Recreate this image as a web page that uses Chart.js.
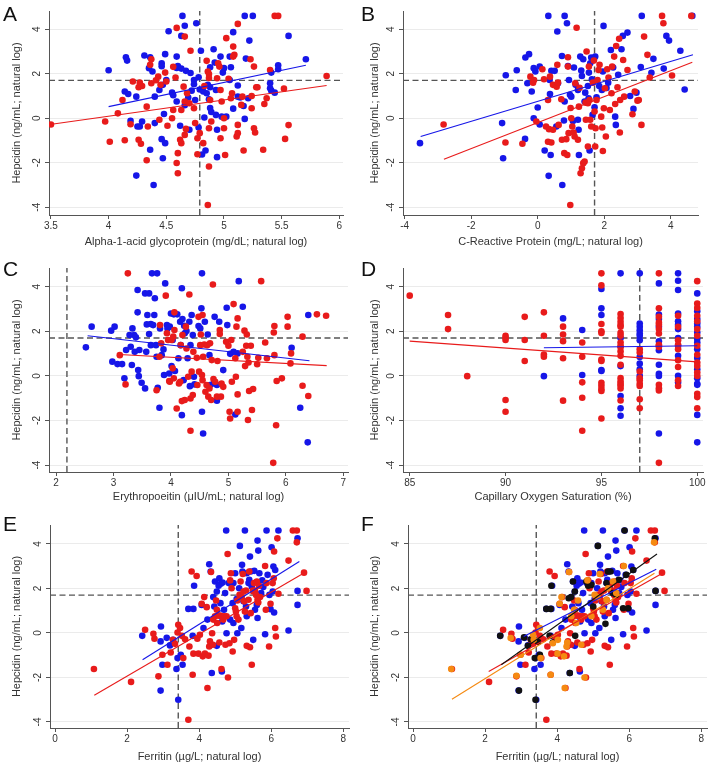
<!DOCTYPE html>
<html>
<head>
<meta charset="utf-8">
<script src="https://cdn.jsdelivr.net/npm/chart.js@4.4.1/dist/chart.umd.min.js"></script>
<style>
body{margin:0;background:#fff;width:718px;height:770px;position:relative;overflow:hidden}
.panel{position:absolute}
.letter{position:absolute;font-family:"Liberation Sans",Arial,sans-serif;font-size:21px;color:#111}
</style>
</head>
<body>
<script>
// hepcidin axis (all panels)
var hepTicks=[-4,-2,0,2,4]
var hepcidinCut=1.7

// A: alpha-1-acid glycoprotein
var agpTicks=[3.5,4,4.5,5,5.5,6]
var agpCut=4.79
var agpBlue=[[4.64,4.6],[4.66,4.16],[4.52,3.91],[4.76,4.27],[4.63,3.70],[4.80,3.03],[4.91,3.10],[5.18,4.6],[5.25,4.6],[5.08,3.87],[5.22,3.49],[5.56,3.70],[5.71,2.65],[4.00,2.16],[4.15,2.74],[4.16,2.59],[4.31,2.82],[4.36,2.74],[4.35,2.25],[4.49,2.88],[4.38,2.10],[4.46,2.47],[4.46,2.34],[4.59,2.77],[4.59,2.26],[4.60,2.35],[4.63,2.23],[4.67,2.13],[4.71,2.03],[4.74,1.72],[4.74,1.53],[4.78,1.84],[4.72,1.24],[4.79,1.29],[4.82,1.20],[4.86,1.50],[4.88,1.39],[4.85,1.12],[4.92,2.50],[4.88,2.29],[4.97,2.77],[5.00,2.25],[5.05,2.77],[5.06,2.29],[4.99,2.05],[4.93,1.27],[5.05,1.72],[5.12,1.47],[5.12,0.97],[5.21,0.90],[5.14,0.93],[5.19,2.68],[5.41,2.05],[5.47,2.20],[5.40,1.57],[5.40,1.35],[5.41,1.24],[5.44,1.15],[5.47,2.38],[4.14,1.20],[4.17,1.09],[4.24,0.97],[4.40,0.97],[4.44,1.27],[4.47,1.50],[4.50,1.72],[4.55,1.15],[4.56,1.03],[4.59,0.75],[4.66,0.58],[4.69,0.93],[4.75,0.82],[4.87,0.85],[4.88,0.46],[4.89,0.28],[4.93,0.15],[4.98,0.07],[5.02,0.07],[5.08,0.43],[5.17,0.55],[5.18,-0.03],[4.19,-0.12],[4.29,-0.15],[4.25,-0.37],[4.27,-0.37],[4.40,-0.22],[4.48,0.19],[4.62,-0.34],[4.70,-0.52],[4.78,-0.42],[4.83,0.03],[4.94,-0.52],[4.46,-0.94],[4.49,-1.12],[4.36,-1.42],[4.47,-1.80],[4.84,-1.45],[4.81,-1.63],[4.94,-1.75],[4.24,-2.58],[4.39,-3.00]]
var agpRed=[[3.50,-0.28],[3.97,-0.15],[4.01,-1.06],[4.08,0.22],[4.12,0.82],[4.14,-0.99],[4.19,-0.27],[4.21,1.65],[4.26,1.39],[4.27,1.60],[4.29,1.45],[4.33,0.52],[4.26,-0.97],[4.28,-1.15],[4.33,-1.89],[4.34,-0.37],[4.37,2.65],[4.36,2.40],[4.37,1.57],[4.41,1.71],[4.43,1.87],[4.44,-0.07],[4.49,2.05],[4.50,1.65],[4.51,-0.34],[4.55,0.00],[4.56,2.31],[4.58,1.83],[4.59,4.06],[4.59,-2.01],[4.60,-1.57],[4.60,-2.47],[4.62,-0.97],[4.63,-1.12],[4.63,0.37],[4.65,1.42],[4.66,0.75],[4.66,3.67],[4.68,1.12],[4.70,0.67],[4.71,3.03],[4.74,0.45],[4.75,-0.22],[4.77,-0.90],[4.77,-1.62],[4.82,-1.12],[4.83,1.45],[4.85,2.58],[4.86,2.10],[4.87,1.99],[4.87,1.81],[4.87,-2.17],[4.86,-3.90],[4.88,0.82],[4.87,-0.45],[4.89,-0.15],[4.94,1.80],[4.95,2.47],[4.96,2.32],[4.97,1.27],[4.97,-0.90],[4.98,0.75],[5.00,0.00],[5.00,-0.45],[5.01,-1.65],[5.02,3.60],[5.04,1.77],[5.06,0.90],[5.07,1.12],[5.08,3.22],[5.08,2.77],[5.09,2.85],[5.12,4.24],[5.11,-0.82],[5.12,-0.67],[5.12,-0.30],[5.15,0.60],[5.16,0.97],[5.17,-1.45],[5.23,2.65],[5.24,0.45],[5.24,1.00],[5.26,2.32],[5.26,-0.45],[5.27,-0.64],[5.28,1.39],[5.29,1.39],[5.34,-1.42],[5.35,0.64],[5.37,0.90],[5.44,4.6],[5.47,4.6],[5.40,2.17],[5.52,1.33],[5.53,-0.93],[5.56,-0.31],[5.89,1.90],[4.66,-0.75],[4.67,-0.48],[4.56,0.37],[4.45,1.50],[4.79,-0.67]]
var agpFitBlue=[[4.00,0.52],[5.71,2.38]]
var agpFitRed=[[3.49,-0.28],[5.89,1.47]]

// B: C-reactive protein
var crpTicks=[-4,-2,0,2,4]
var crpCut=1.71
var crpBlue=[[-3.54,-1.12],[-1.07,-0.22],[-1.04,-1.80],[-0.96,1.93],[-0.66,1.27],[-0.63,2.16],[-0.38,-0.93],[-0.37,2.73],[-0.26,2.88],[-0.31,1.57],[-0.18,1.20],[-0.12,2.25],[-0.07,2.10],[-0.12,0.00],[0.00,0.48],[0.06,2.32],[0.06,-0.28],[0.21,-1.45],[0.32,4.6],[0.33,-2.59],[0.37,1.09],[0.39,-1.65],[0.41,2.13],[0.51,2.13],[0.56,-0.37],[0.61,1.57],[0.59,3.90],[0.73,2.80],[0.74,-3.00],[0.79,-0.10],[0.81,4.6],[0.88,4.27],[0.91,2.35],[0.94,1.72],[0.97,1.05],[1.01,0.97],[1.06,-0.12],[1.09,2.28],[1.14,1.50],[1.21,1.27],[1.23,-0.52],[1.24,-1.65],[1.28,2.77],[1.31,2.14],[1.33,1.90],[1.37,2.65],[1.41,0.75],[1.43,1.15],[1.51,1.45],[1.53,0.90],[1.56,-1.45],[1.54,2.05],[1.58,2.47],[1.61,2.73],[1.63,1.75],[1.69,2.65],[1.73,2.77],[1.65,0.15],[1.98,4.15],[1.71,0.49],[1.77,0.94],[1.85,1.45],[1.93,1.27],[1.96,2.10],[2.07,1.36],[2.12,1.60],[2.20,3.07],[2.27,2.28],[2.33,0.07],[2.35,-0.30],[2.42,1.95],[2.52,3.10],[2.56,3.70],[2.70,3.85],[2.88,0.42],[2.97,1.15],[2.78,1.00],[3.13,4.6],[3.10,2.30],[3.42,2.04],[3.48,2.67],[3.79,2.23],[3.87,3.70],[3.95,3.49],[4.29,3.03],[4.42,1.29],[4.65,4.6],[0.36,1.72],[0.81,0.75],[1.21,-0.07]]
var crpRed=[[-2.83,-0.28],[-0.97,-1.09],[-0.46,-1.15],[-0.22,1.87],[-0.14,1.60],[-0.11,1.72],[-0.04,-0.15],[0.14,2.20],[0.19,1.75],[0.25,-0.37],[0.31,-1.06],[0.31,0.82],[0.34,-0.49],[0.37,1.87],[0.41,-1.09],[0.46,-0.52],[0.46,1.50],[0.57,1.42],[0.59,2.40],[0.61,1.60],[0.63,-0.30],[0.71,0.85],[0.73,-0.97],[0.80,-1.57],[0.86,-0.94],[0.89,-1.65],[0.91,2.32],[0.91,2.74],[0.93,-0.67],[0.98,-3.90],[0.99,0.46],[1.01,0.00],[1.04,-0.37],[1.08,-0.64],[1.11,-0.82],[1.13,1.57],[1.17,4.07],[1.21,-0.97],[1.24,0.52],[1.26,1.37],[1.29,-2.47],[1.33,-2.25],[1.37,-2.02],[1.41,-1.95],[1.44,0.70],[1.45,-0.07],[1.47,3.00],[1.51,0.67],[1.54,2.32],[1.56,0.82],[1.58,-0.07],[1.61,-0.37],[1.66,1.60],[1.69,2.59],[1.71,0.30],[1.74,-0.45],[1.77,0.82],[1.80,1.72],[1.83,2.17],[1.86,2.40],[1.91,0.07],[1.94,-0.42],[1.96,-1.47],[1.99,0.45],[2.02,1.35],[2.05,-0.82],[2.09,2.20],[2.13,1.83],[2.17,0.37],[2.22,1.12],[2.24,2.32],[2.30,2.77],[2.33,0.64],[2.36,3.25],[2.40,1.39],[2.45,3.57],[2.48,0.82],[2.47,-0.64],[2.57,2.62],[2.60,0.97],[2.70,2.17],[2.85,0.18],[2.92,1.20],[3.00,0.79],[3.04,0.82],[3.12,-0.30],[3.20,3.67],[3.30,2.85],[3.37,1.83],[3.74,4.6],[3.78,4.27],[4.04,1.92],[4.62,4.6],[1.73,-1.27],[1.51,-1.27]]
var crpFitBlue=[[-3.52,-0.82],[4.67,2.85]]
var crpFitRed=[[-2.82,-1.84],[4.65,2.52]]

// C: erythropoietin
var epoTicks=[2,3,4,5,6,7]
var epoCut=2.19
var epoBlue=[[2.52,1.28],[2.62,2.21],[2.96,2.03],[3.02,2.21],[2.98,0.64],[3.07,0.53],[3.15,0.53],[3.19,-0.11],[3.22,1.16],[3.28,1.83],[3.30,1.31],[3.33,2.13],[3.36,1.83],[3.32,0.49],[3.37,1.08],[3.39,1.73],[3.42,3.85],[3.42,2.85],[3.43,0.26],[3.44,-0.01],[3.45,1.16],[3.49,-0.31],[3.55,-0.56],[3.57,1.08],[3.55,3.70],[3.58,2.31],[3.59,2.73],[3.62,3.70],[3.62,1.88],[3.65,2.33],[3.65,1.38],[3.67,4.6],[3.69,2.28],[3.71,2.73],[3.72,3.48],[3.74,1.38],[3.75,0.86],[3.76,4.6],[3.77,-0.53],[3.80,-1.43],[3.81,2.13],[3.84,0.93],[3.87,1.19],[3.90,4.15],[3.88,0.04],[3.93,2.28],[3.94,2.13],[3.97,0.11],[3.98,2.21],[4.00,2.80],[4.01,0.44],[4.03,1.61],[4.05,2.76],[4.07,0.22],[4.11,2.76],[4.13,0.79],[4.16,2.43],[4.17,1.38],[4.19,-1.76],[4.19,3.93],[4.20,2.55],[4.22,-0.19],[4.23,2.25],[4.24,1.91],[4.27,2.01],[4.29,0.79],[4.32,2.43],[4.33,-0.46],[4.34,1.38],[4.36,2.73],[4.38,1.83],[4.40,-0.04],[4.41,-0.38],[4.48,2.24],[4.51,2.13],[4.53,3.03],[4.54,4.6],[4.54,-1.61],[4.56,-2.58],[4.59,2.43],[4.64,1.86],[4.67,0.93],[4.68,-0.41],[4.74,-0.34],[4.76,2.65],[4.80,-1.11],[4.84,2.43],[4.91,0.26],[4.97,3.06],[4.98,2.28],[5.03,0.99],[5.09,1.08],[5.12,-1.73],[5.16,1.01],[5.18,4.25],[5.25,3.10],[6.10,1.26],[6.39,2.73],[6.25,-1.43],[6.38,-2.98],[4.80,-0.41]]
var epoRed=[[3.11,0.93],[3.21,-0.38],[3.25,4.6],[3.75,-0.64],[3.81,2.28],[3.80,0.86],[3.83,1.46],[3.91,3.60],[3.93,1.91],[3.95,1.61],[3.97,-0.23],[3.98,-0.26],[4.01,1.61],[4.03,0.34],[4.04,1.76],[4.05,-0.11],[4.06,2.06],[4.06,2.85],[4.10,-1.46],[4.14,-0.34],[4.16,-0.26],[4.17,1.38],[4.19,-1.13],[4.20,1.83],[4.24,-1.08],[4.26,2.21],[4.27,1.23],[4.30,-0.04],[4.32,3.65],[4.34,-2.46],[4.34,-1.01],[4.36,0.19],[4.38,-0.86],[4.39,1.08],[4.45,0.81],[4.46,-0.41],[4.48,2.65],[4.49,0.19],[4.51,1.38],[4.52,1.86],[4.54,0.04],[4.55,2.73],[4.55,-0.19],[4.56,0.86],[4.58,1.41],[4.60,-0.71],[4.62,-0.41],[4.63,1.38],[4.65,-0.93],[4.67,-0.56],[4.68,1.46],[4.70,-1.08],[4.71,0.71],[4.73,4.10],[4.74,-0.14],[4.77,-0.26],[4.80,-0.93],[4.81,0.67],[4.85,2.06],[4.85,1.88],[4.87,-0.93],[4.88,-0.34],[4.91,-0.49],[4.96,1.53],[5.00,1.35],[5.02,-1.61],[5.03,-1.91],[5.05,1.61],[5.06,-0.26],[5.09,3.22],[5.12,0.79],[5.13,-0.04],[5.16,-0.83],[5.16,2.58],[5.16,-1.61],[5.14,2.21],[5.25,1.08],[5.28,2.03],[5.29,0.44],[5.31,1.35],[5.32,1.86],[5.33,0.86],[5.34,-1.98],[5.35,0.60],[5.36,-0.68],[5.39,1.35],[5.41,-1.53],[5.43,-0.59],[5.50,0.52],[5.52,0.81],[5.57,4.25],[5.64,1.50],[5.67,0.79],[5.79,1.95],[5.80,2.24],[5.80,0.93],[5.78,-3.90],[5.83,-2.21],[5.84,-0.23],[5.93,-0.11],[6.03,2.21],[6.03,2.65],[6.09,1.01],[6.08,0.56],[6.29,1.76],[6.29,-0.44],[6.39,-0.90],[6.54,2.76],[6.70,2.70]]
var epoFitBlue=[[2.55,1.80],[6.41,0.68]]
var epoFitRed=[[3.10,0.96],[6.71,0.46]]

// D: capillary oxygen saturation
var spo2Ticks=[85,90,95,100]
var spo2Cut=97
var spo2Blue=[[92,-0.01],[93,2.58],[94,2.06],[94,0.04],[95,3.90],[95,3.03],[95,2.73],[95,0.26],[95,0.22],[96,4.6],[96,1.70],[96,0.44],[96,-0.90],[96,-1.45],[96,-1.79],[97,4.6],[97,2.35],[97,2.20],[97,2.05],[97,1.90],[97,1.80],[97,1.60],[97,0.85],[97,0.55],[97,0.30],[97,0.00],[98,4.15],[98,2.75],[98,2.55],[98,2.20],[98,1.55],[98,1.15],[98,0.50],[98,0.10],[98,0.00],[98,-2.58],[99,4.6],[99,4.27],[99,3.85],[99,2.80],[99,2.45],[99,2.30],[99,2.10],[99,1.70],[99,1.35],[99,0.90],[99,0.00],[99,-0.30],[100,3.70],[100,2.90],[100,2.55],[100,2.35],[100,2.20],[100,1.95],[100,1.65],[100,1.50],[100,1.20],[100,0.80],[100,0.30],[100,-0.10],[100,-0.35],[100,-0.40],[100,-1.75],[100,-2.98]]
var spo2Red=[[85,3.60],[87,2.73],[87,2.10],[88,-0.01],[90,1.80],[90,1.71],[90,1.61],[90,-1.08],[90,-1.61],[91,2.65],[91,1.61],[91,0.67],[92,2.85],[92,1.80],[92,0.96],[92,0.86],[93,2.21],[93,1.86],[93,1.56],[93,0.79],[93,-1.11],[94,1.50],[94,0.86],[94,-0.29],[94,-0.98],[94,-2.46],[95,4.6],[95,4.06],[95,2.33],[95,2.00],[95,1.93],[95,0.73],[95,0.67],[95,-0.31],[95,-0.44],[95,-0.59],[95,-0.68],[95,-1.91],[96,2.78],[96,2.60],[96,2.43],[96,2.28],[96,2.21],[96,1.93],[96,1.80],[96,1.50],[96,1.35],[96,1.28],[96,1.10],[96,0.90],[96,0.50],[96,-0.10],[96,-0.25],[96,-0.35],[96,-0.43],[96,-0.56],[96,-1.10],[97,1.20],[97,1.05],[97,0.20],[97,-0.10],[97,-0.20],[97,-0.35],[97,-0.45],[97,-1.05],[97,-1.45],[98,4.6],[98,3.03],[98,2.65],[98,2.40],[98,2.30],[98,2.10],[98,1.90],[98,1.40],[98,1.35],[98,1.30],[98,-0.40],[98,-0.55],[98,-0.65],[98,-3.90],[99,2.70],[99,2.20],[99,1.60],[99,1.40],[99,1.20],[99,0.70],[99,0.40],[99,-0.20],[99,-0.45],[100,4.25],[100,3.25],[100,3.05],[100,2.70],[100,2.45],[100,2.10],[100,1.80],[100,1.35],[100,0.95],[100,0.60],[100,0.45],[100,0.15],[100,0.00],[100,-0.80],[100,-0.95],[100,-1.45]]
var spo2FitBlue=[[92,1.26],[100,1.35]]
var spo2FitRed=[[85,1.56],[100,0.63]]

// E and F: ferritin
var ferTicks=[0,2,4,6,8]
var ferCut=3.42
var ferBlue=[[2.42,-0.13],[2.94,0.29],[2.93,-0.38],[2.98,-1.43],[2.93,-2.59],[3.10,-0.22],[3.19,-0.56],[3.28,-0.31],[3.40,-1.13],[3.37,-1.62],[3.42,-3.00],[3.49,-0.98],[3.54,-1.43],[3.70,1.08],[3.84,1.08],[3.86,2.12],[3.82,-0.13],[4.07,1.26],[4.12,0.22],[4.23,0.60],[4.28,3.09],[4.32,2.76],[4.35,-1.80],[4.39,1.61],[4.42,1.19],[4.44,2.31],[4.49,1.86],[4.49,-0.58],[4.54,2.12],[4.56,2.46],[4.59,1.34],[4.60,2.21],[4.65,2.27],[4.64,0.52],[4.63,-1.73],[4.69,1.04],[4.72,1.79],[4.75,4.6],[4.76,-0.01],[4.82,2.24],[4.86,0.60],[4.93,1.34],[4.95,0.45],[5.00,2.68],[5.04,1.52],[5.06,-0.01],[5.11,2.01],[5.13,3.91],[5.17,0.22],[5.19,3.06],[5.20,2.76],[5.23,1.42],[5.27,4.6],[5.30,1.19],[5.32,0.75],[5.37,2.24],[5.39,2.39],[5.41,3.43],[5.43,2.76],[5.46,2.09],[5.50,-0.31],[5.53,2.79],[5.55,1.04],[5.60,1.26],[5.62,0.67],[5.62,4.15],[5.64,3.70],[5.67,2.68],[5.72,1.79],[5.75,2.36],[5.78,2.06],[5.83,-0.06],[5.87,4.6],[5.90,2.61],[5.95,1.71],[5.98,1.07],[6.01,3.85],[6.04,1.86],[6.06,2.98],[6.08,0.92],[6.11,2.83],[6.20,4.6],[6.48,0.11],[6.73,4.25],[6.73,1.89],[6.73,1.26],[4.95,2.24],[5.32,2.68]]
var ferRed=[[1.08,-1.62],[2.11,-2.20],[2.50,0.14],[2.73,-0.04],[2.76,-0.26],[2.87,-1.95],[2.98,-0.98],[3.12,-1.43],[3.21,-0.88],[3.27,-0.31],[3.33,-0.49],[3.40,0.02],[3.42,0.37],[3.47,0.22],[3.52,-0.13],[3.56,-1.13],[3.61,-0.28],[3.70,-3.90],[3.73,-0.61],[3.79,2.76],[3.82,-1.88],[3.84,-0.93],[3.93,2.56],[3.95,-0.26],[3.98,-0.93],[4.02,-0.08],[4.07,1.31],[4.10,-1.05],[4.14,1.61],[4.16,-0.93],[4.21,1.16],[4.23,-2.47],[4.26,-1.02],[4.28,-0.61],[4.30,-0.38],[4.33,2.74],[4.36,-0.01],[4.38,-0.53],[4.39,0.60],[4.44,0.75],[4.47,1.46],[4.49,1.04],[4.50,0.45],[4.53,0.78],[4.56,-0.43],[4.58,0.78],[4.62,-1.62],[4.63,0.75],[4.67,0.60],[4.70,0.75],[4.73,-0.53],[4.76,0.75],[4.79,3.55],[4.80,-2.00],[4.84,-0.46],[4.86,2.36],[4.88,2.68],[4.90,2.01],[4.93,-0.83],[4.97,-0.31],[5.00,1.11],[5.02,0.96],[5.04,0.75],[5.06,1.46],[5.09,0.60],[5.12,1.71],[5.15,2.31],[5.18,1.61],[5.21,2.65],[5.23,1.86],[5.25,1.42],[5.27,0.96],[5.30,1.91],[5.32,-0.58],[5.37,1.49],[5.39,2.76],[5.41,-0.64],[5.43,0.89],[5.46,-1.43],[5.49,1.91],[5.50,1.86],[5.52,2.24],[5.55,1.91],[5.58,1.71],[5.60,2.31],[5.62,1.49],[5.64,1.37],[5.66,2.12],[5.69,1.61],[5.83,3.01],[5.85,1.04],[5.87,2.24],[5.94,-0.61],[5.98,1.31],[6.04,2.24],[6.07,2.46],[6.08,3.66],[6.11,0.22],[6.13,-0.16],[6.17,4.25],[6.20,1.76],[6.48,3.25],[6.60,4.6],[6.71,4.6],[6.71,4.07],[6.91,2.71],[6.98,1.89]]
var ferBlack=[[2.42,-0.13],[2.94,-2.59],[3.08,-0.20],[3.19,-0.58],[3.27,-0.28],[3.38,-1.13],[3.40,-3.00],[3.47,-0.41],[3.52,-0.98],[3.70,1.08],[3.82,1.08],[3.84,2.12],[3.88,-0.43],[4.32,1.56],[4.35,-1.80],[4.39,1.61],[4.44,2.31],[4.49,1.86],[4.50,-0.13],[4.81,2.31],[4.86,2.12],[4.95,2.16],[5.00,1.19],[5.13,3.91],[5.34,0.41],[5.37,2.24],[5.41,2.76],[5.48,2.76],[5.54,1.79],[5.64,1.71],[5.71,2.39],[5.83,1.11],[5.87,4.6],[5.92,2.61],[5.97,1.11],[6.11,2.83],[6.71,4.25],[6.73,1.89],[3.79,-0.13]]
var ferOrange=[[1.06,-1.62],[2.71,-0.23],[2.87,-1.92],[2.99,-0.98],[3.33,-0.08],[3.35,-0.31],[3.52,0.22],[3.54,-1.13],[3.82,-1.88],[3.88,-0.46],[4.01,-0.93],[4.02,-0.31],[4.07,1.31],[4.12,1.61],[4.19,-1.05],[4.21,-2.47],[4.26,-0.61],[4.28,-0.43],[4.33,2.74],[4.39,0.75],[4.47,1.04],[4.53,0.45],[4.58,1.46],[4.67,-0.53],[4.76,-2.00],[4.84,2.36],[4.95,0.75],[5.04,1.71],[5.12,1.61],[5.18,2.65],[5.37,1.49],[5.55,2.31],[5.85,3.01],[5.64,1.79],[6.69,4.07],[5.27,1.04],[5.41,2.01]]
var ferFitBlue=[[2.43,-1.20],[6.78,3.21]]
var ferFitRed=[[1.09,-2.80],[6.98,2.76]]
var ferFitBlackF=[[2.45,-1.43],[6.77,3.55]]
var ferFitBlueF=[[3.07,-0.16],[6.75,2.86]]
var ferFitRedF=[[2.10,-1.73],[6.97,2.73]]
var ferFitOrangeF=[[1.08,-2.98],[6.70,2.68]]

var hepTitle="Hepcidin (ng/mL; natural log)"
var BLUE="#1616e8", RED="#e81b1b", BLACK="#111111", ORANGE="#f58a12"

function pts(a){ return a.map(function(p){return {x:p[0],y:p[1]}}) }

function dots(a,col,ord){
  return {data:pts(a),backgroundColor:col,borderWidth:0,pointRadius:3.3,pointHoverRadius:3.3,order:ord}
}
function fit(a,col){
  return {data:pts(a),showLine:true,borderColor:col,borderWidth:1.1,pointRadius:0,order:0}
}
function dash(a){
  return {data:pts(a),showLine:true,borderColor:"#555",borderWidth:1.4,borderDash:[6,3.5],pointRadius:0,order:9}
}

var panels=[
 {letter:"A",left:0,top:0,w:358,h:255,area:{l:49,r:343,t:11,b:215},xmin:3.483,xmax:6.032,ymin:-4.35,ymax:4.82,xticks:agpTicks,cut:agpCut,
  title:"Alpha-1-acid glycoprotein (mg/dL; natural log)",sets:[dots(agpRed,RED,2),dots(agpBlue,BLUE,3),fit(agpFitBlue,BLUE),fit(agpFitRed,RED)]},
 {letter:"B",left:358,top:0,w:360,h:255,area:{l:45,r:340,t:11,b:215},xmin:-4.051,xmax:4.821,ymin:-4.35,ymax:4.82,xticks:crpTicks,cut:crpCut,
  title:"C-Reactive Protein (mg/L; natural log)",sets:[dots(crpRed,RED,2),dots(crpBlue,BLUE,3),fit(crpFitBlue,BLUE),fit(crpFitRed,RED)]},
 {letter:"C",left:0,top:255,w:358,h:255,area:{l:49,r:348,t:13,b:217},xmin:1.878,xmax:7.081,ymin:-4.31,ymax:4.84,xticks:epoTicks,cut:epoCut,
  title:"Erythropoeitin (\u03bcIU/mL; natural log)",sets:[dots(epoRed,RED,2),dots(epoBlue,BLUE,3),fit(epoFitBlue,BLUE),fit(epoFitRed,RED)]},
 {letter:"D",left:358,top:255,w:360,h:255,area:{l:45,r:345,t:13,b:217},xmin:84.65,xmax:100.3,ymin:-4.31,ymax:4.84,xticks:spo2Ticks,cut:spo2Cut,
  title:"Capillary Oxygen Saturation (%)",sets:[dots(spo2Red,RED,2),dots(spo2Blue,BLUE,3),fit(spo2FitBlue,BLUE),fit(spo2FitRed,RED)]},
 {letter:"E",left:0,top:510,w:358,h:260,area:{l:50,r:349,t:15,b:218},xmin:-0.139,xmax:8.158,ymin:-4.27,ymax:4.85,xticks:ferTicks,cut:ferCut,
  title:"Ferritin (\u00b5g/L; natural log)",sets:[dots(ferRed,RED,2),dots(ferBlue,BLUE,3),fit(ferFitBlue,BLUE),fit(ferFitRed,RED)]},
 {letter:"F",left:358,top:510,w:360,h:260,area:{l:50,r:349,t:15,b:218},xmin:-0.139,xmax:8.158,ymin:-4.27,ymax:4.85,xticks:ferTicks,cut:ferCut,
  title:"Ferritin (\u00b5g/L; natural log)",sets:[dots(ferOrange,ORANGE,1),dots(ferBlack,BLACK,1),dots(ferRed,RED,2),dots(ferBlue,BLUE,3),
   fit(ferFitBlackF,BLACK),fit(ferFitBlueF,BLUE),fit(ferFitRedF,RED),fit(ferFitOrangeF,ORANGE)]}
]

var tickFont={family:"'Liberation Sans', Arial, sans-serif",size:10}
var titleFont={family:"'Liberation Sans', Arial, sans-serif",size:11}
function plain(v){ return String(v) }

panels.forEach(function(p){
  var div=document.createElement("div")
  div.className="panel"
  div.style.left=p.left+"px"; div.style.top=p.top+"px"
  div.style.width=p.w+"px"; div.style.height=p.h+"px"
  var cv=document.createElement("canvas")
  cv.width=p.w; cv.height=p.h
  div.appendChild(cv)
  var lab=document.createElement("div")
  lab.className="letter"; lab.textContent=p.letter
  lab.style.left="3px"; lab.style.top="2px"
  div.appendChild(lab)
  document.body.appendChild(div)

  var sets=p.sets.slice()
  sets.push(dash([[p.xmin,hepcidinCut],[p.xmax,hepcidinCut]]))
  sets.push(dash([[p.cut,p.ymin],[p.cut,p.ymax]]))

  new Chart(cv,{
    type:"scatter",
    data:{datasets:sets},
    options:{
      responsive:false,animation:false,
      layout:{padding:{top:p.area.t,right:p.w-p.area.r,left:0,bottom:0}},
      plugins:{legend:{display:false},tooltip:{enabled:false}},
      scales:{
        x:{type:"linear",min:p.xmin,max:p.xmax,
          afterBuildTicks:function(s){s.ticks=p.xticks.map(function(v){return {value:v}})},
          afterFit:function(s){s.height=p.h-p.area.b},
          grid:{drawOnChartArea:false,tickLength:4,tickColor:"#555"},
          border:{color:"#555",width:1},
          ticks:{font:tickFont,color:"#333",padding:1,maxRotation:0,autoSkip:false,callback:plain},
          title:{display:true,text:p.title,font:titleFont,color:"#333",padding:{top:0,bottom:6}}},
        y:{type:"linear",min:p.ymin,max:p.ymax,
          afterBuildTicks:function(s){s.ticks=hepTicks.map(function(v){return {value:v}})},
          afterFit:function(s){s.width=p.area.l},
          grid:{color:"#ebebeb",tickLength:4,tickColor:"#555"},
          border:{color:"#555",width:1},
          ticks:{font:tickFont,color:"#333",padding:3,minRotation:90,maxRotation:90,crossAlign:"center",autoSkip:false,callback:plain},
          title:{display:true,text:hepTitle,font:titleFont,color:"#333",padding:{top:10,bottom:0}}}
      }
    }
  })
})
</script>
</body>
</html>
